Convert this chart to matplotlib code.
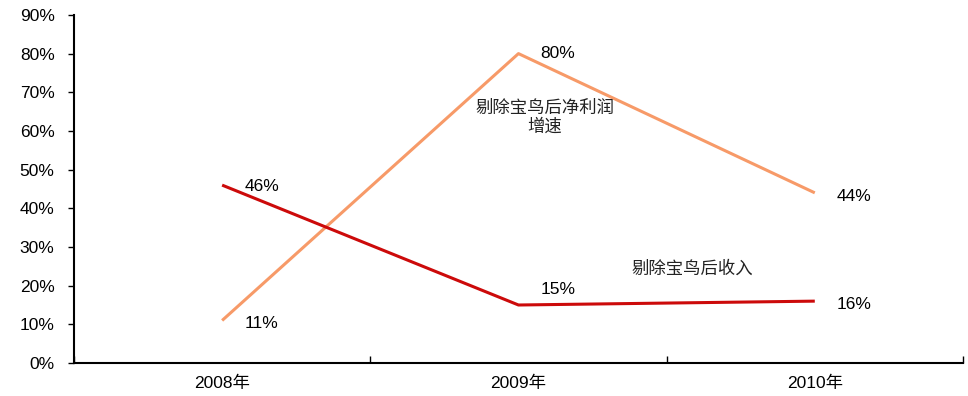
import numpy as np
import matplotlib.pyplot as plt
from matplotlib.ticker import FixedLocator, PercentFormatter

plt.rcParams['font.family'] = ['Liberation Sans', 'Noto Sans CJK SC', 'DejaVu Sans']

years = ["2008年", "2009年", "2010年"]
profit_growth = [11, 80, 44]   # 剔除宝鸟后净利润增速, %
revenue_growth = [46, 15, 16]  # 剔除宝鸟后收入, %

orange = '#F79A68'
red = '#CC0A0A'
fs = 12.5

fig = plt.figure(figsize=(9.68, 3.96), dpi=100)
ax = fig.add_axes([0.0764, 0.0833, 0.9184, 0.879])

x = np.arange(len(years))
ax.plot(x, profit_growth, color=orange, lw=2.2, solid_capstyle='butt')
ax.plot(x, revenue_growth, color=red, lw=2.2, solid_capstyle='butt')

# value labels to the right of each point, nudged off the lines
profit_dy = [-0.8, 0, -1.0]
revenue_dy = [-0.3, 4, -0.8]
for xi, v, dy in zip(x, profit_growth, profit_dy):
    ax.text(xi + 0.075, v + dy, f"{v}%", fontsize=fs, va='center', ha='left')
for xi, v, dy in zip(x, revenue_growth, revenue_dy):
    ax.text(xi + 0.075, v + dy, f"{v}%", fontsize=fs, va='center', ha='left')

cjk = ['Noto Sans CJK SC', 'DejaVu Sans']
ax.text(1.09, 63.5, "剔除宝鸟后净利润\n增速", fontsize=fs, ha='center', va='center',
        family=cjk, color='#222222', linespacing=1.05)
ax.text(1.38, 24.5, "剔除宝鸟后收入", fontsize=fs, ha='left', va='center',
        family=cjk, color='#222222')

ax.set_xlim(-0.5, 2.5)
ax.set_ylim(0, 90)
ax.set_yticks(np.arange(0, 91, 10))
ax.yaxis.set_major_formatter(PercentFormatter(decimals=0))
ax.tick_params(axis='y', direction='out', length=4, width=1, labelsize=fs, pad=10)

ax.xaxis.set_major_locator(FixedLocator([-0.5, 0.5, 1.5, 2.5]))
ax.xaxis.set_minor_locator(FixedLocator(x))
ax.set_xticklabels([])
ax.set_xticklabels(years, minor=True)
ax.tick_params(axis='x', which='major', direction='in', length=5, width=1)
ax.tick_params(axis='x', which='minor', length=0, labelsize=fs, pad=9)
for lab in ax.get_xticklabels(minor=True):
    lab.set_family(['Liberation Sans', 'Noto Sans CJK SC'])

for side in ['top', 'right']:
    ax.spines[side].set_visible(False)
ax.spines['left'].set_linewidth(1.5)
ax.spines['bottom'].set_linewidth(1.5)

fig.savefig('out.png', dpi=100)
